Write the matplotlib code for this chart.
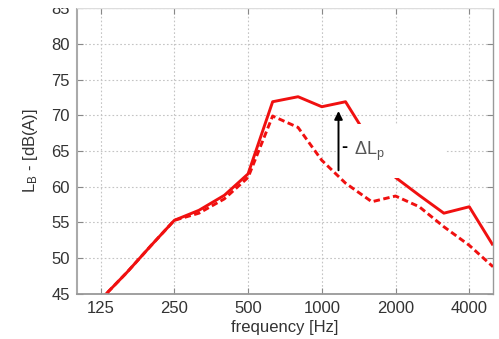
import numpy as np
import matplotlib
matplotlib.use("Agg")
import matplotlib.pyplot as plt
from matplotlib.patches import Rectangle
from matplotlib.ticker import FixedLocator, NullLocator

plt.rcParams['font.family'] = ['Liberation Sans', 'DejaVu Sans']
plt.rcParams['mathtext.fontset'] = 'custom'
plt.rcParams['mathtext.rm'] = 'Liberation Sans'
plt.rcParams['mathtext.it'] = 'Liberation Sans'

# third-octave band centre frequencies
freqs = [125, 160, 200, 250, 315, 400, 500, 630, 800, 1000, 1250, 1600,
         2000, 2500, 3150, 4000, 5000]
# sound level, solid curve
level_solid = [44.2, 48.0, 51.7, 55.3, 56.7, 58.8, 61.8, 71.9, 72.6, 71.2,
               71.9, 66.0, 61.3, 58.8, 56.3, 57.2, 51.8]
# sound level, dashed curve
level_dashed = [44.2, 48.0, 51.7, 55.3, 56.3, 58.3, 61.3, 69.9, 68.3, 63.7,
                60.5, 57.9, 58.7, 57.2, 54.4, 51.8, 48.8]

xticks = [125, 250, 500, 1000, 2000, 4000]
yticks = [45, 50, 55, 60, 65, 70, 75, 80, 85]

# arrow marking delta L_p
arrow_f = 1170
arrow_from = 62.3
arrow_to = 70.6

fig = plt.figure(figsize=(4.99, 3.39), dpi=100)
ax = fig.add_axes([0.154, 0.133, 0.834, 0.843])

red = '#f01010'
ax.plot(freqs, level_solid, color=red, lw=2.1, zorder=2, solid_capstyle='butt')
ax.plot(freqs, level_dashed, color=red, lw=2.1, ls=(0, (2.2, 1.2)), zorder=5)

ax.annotate('', xy=(arrow_f, arrow_to), xytext=(arrow_f, arrow_from),
            arrowprops=dict(arrowstyle='-|>', color='black', lw=1.4,
                            mutation_scale=12, shrinkA=0, shrinkB=0),
            zorder=6)
# label with white box (hides part of the solid curve and grid)
ax.text(1353, 65.0, 'ΔL$_\\mathrm{p}$          ', fontsize=13, color='#555555',
        va='center', ha='left', zorder=4,
        bbox=dict(facecolor='white', edgecolor='none', pad=11))
ax.text(1237, 65.5, '-', fontsize=13, fontweight='bold', color='black',
        va='center', ha='center', zorder=6)

ax.set_xscale('log')
ax.set_xlim(100, 5000)
ax.set_ylim(45, 85)
ax.xaxis.set_major_locator(FixedLocator(xticks))
ax.xaxis.set_minor_locator(NullLocator())
ax.set_xticklabels([str(t) for t in xticks])
ax.set_yticks(yticks)

ax.grid(True, ls=(0, (1.5, 2)), color='#c4c4c4', lw=0.8, zorder=0)
ax.set_axisbelow(True)
ax.tick_params(direction='in', length=4, width=0.8, color='#888888',
               labelsize=12, labelcolor='#333333', top=True, right=True, pad=5)
for s in ax.spines.values():
    s.set_color('#999999')
    s.set_linewidth(1.0)
ax.spines['left'].set_linewidth(1.5)
ax.spines['left'].set_color('#aaaaaa')
ax.spines['bottom'].set_linewidth(1.3)
ax.spines['top'].set_color('#dddddd')

ax.set_xlabel('frequency [Hz]', fontsize=12, color='#333333', labelpad=3)
ax.set_ylabel('L$_\\mathrm{B}$ - [dB(A)]', fontsize=12, color='#333333', labelpad=8)

# the source image is cropped at the top edge
fig.patches.append(Rectangle((0, 1 - 8 / 339), 1, 8 / 339, transform=fig.transFigure,
                             facecolor='white', edgecolor='none', zorder=10))

fig.savefig('out.png', dpi=100)
